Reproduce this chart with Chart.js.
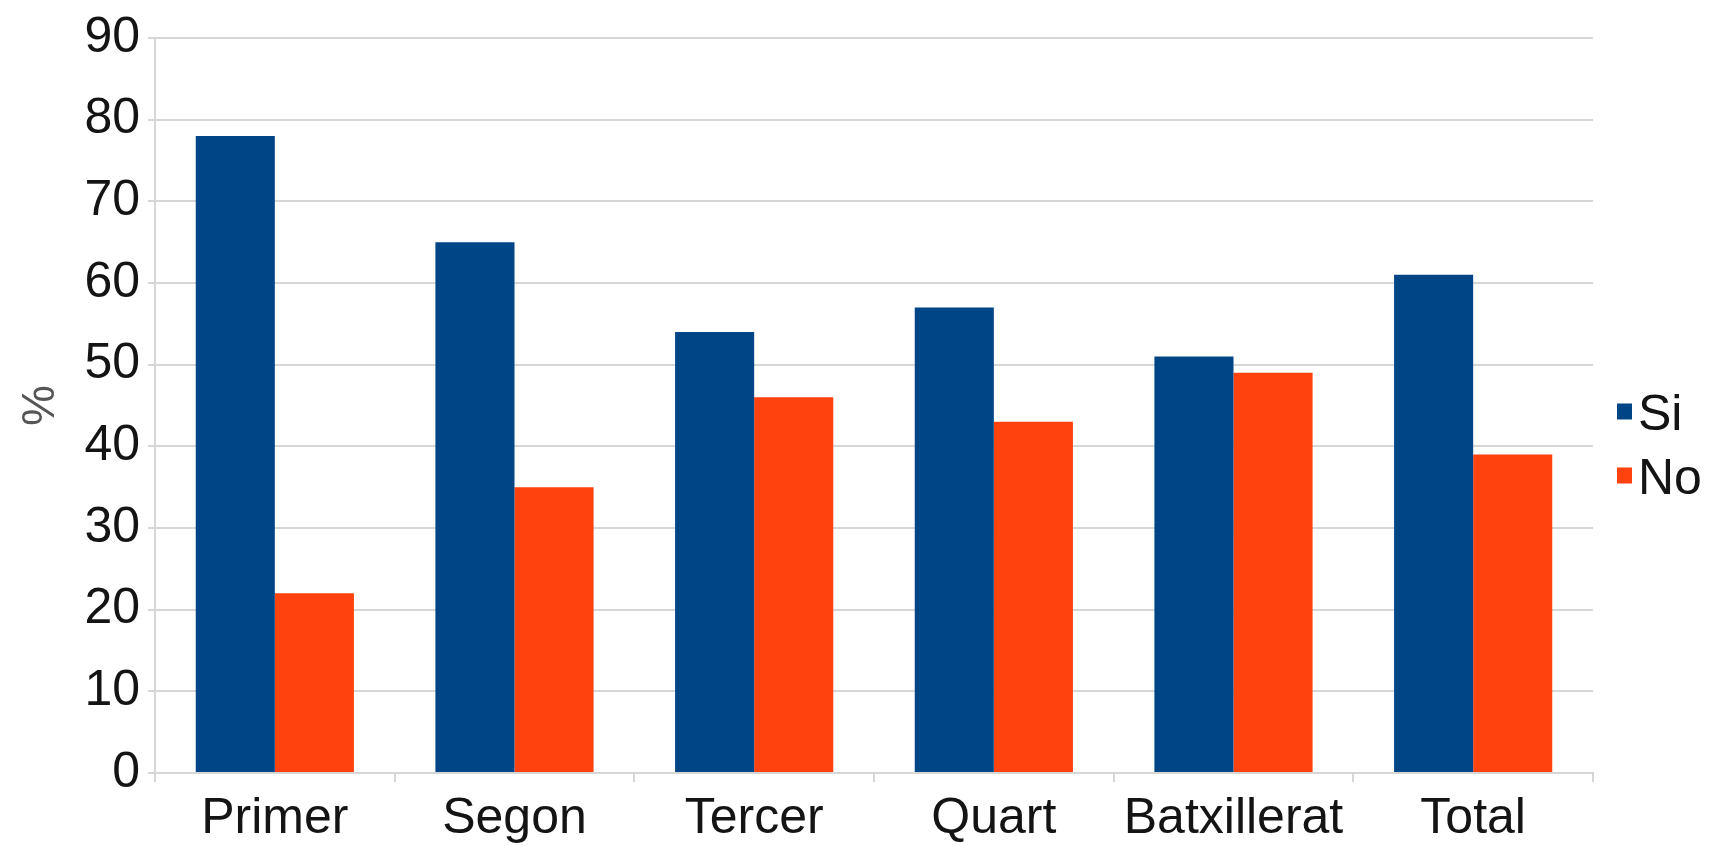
<!DOCTYPE html>
<html>
<head>
<meta charset="utf-8">
<script src="https://cdn.jsdelivr.net/npm/chart.js@4/dist/chart.umd.min.js"></script>
<style>
  html, body { margin: 0; padding: 0; background: #fff; }
  #wrap { width: 1711px; height: 846px; }
</style>
</head>
<body>
<div id="wrap"><canvas id="chart"></canvas></div>
<script>
const categories = ["Primer", "Segon", "Tercer", "Quart", "Batxillerat", "Total"]
const siValues = [78, 65, 54, 57, 51, 61]
const noValues = [22, 35, 46, 43, 49, 39]
const yTicks = [0, 10, 20, 30, 40, 50, 60, 70, 80, 90]

const gridGray = "#d6d6d6"
const fontFamily = "'Liberation Sans', Arial, sans-serif"

// little legend like the LibreOffice one: tiny square, text right next to it
const sideLegend = {
    id: "sideLegend",
    afterDraw(chart) {
        const ctx = chart.ctx
        const area = chart.chartArea
        const x = area.right + 24
        const mid = (area.top + area.bottom) / 2
        ctx.save()
        ctx.font = "50px " + fontFamily
        ctx.textBaseline = "alphabetic"
        chart.data.datasets.forEach((ds, i) => {
            const base = mid + 24 + i * 64
            ctx.fillStyle = ds.backgroundColor
            ctx.fillRect(x, base - 26, 15, 16)
            ctx.fillStyle = "#141414"
            ctx.fillText(ds.label, x + 21, base)
        })
        ctx.restore()
    }
}

new Chart(document.getElementById("chart"), {
    type: "bar",
    data: {
        labels: categories,
        datasets: [
            { label: "Si", data: siValues, backgroundColor: "#004586" },
            { label: "No", data: noValues, backgroundColor: "#ff420e" }
        ]
    },
    options: {
        responsive: true,
        maintainAspectRatio: false,
        animation: false,
        layout: { padding: { left: 0, right: 118, top: 35, bottom: 0 } },
        categoryPercentage: 0.66,
        barPercentage: 1,
        plugins: {
            legend: { display: false },
            tooltip: { enabled: false }
        },
        scales: {
            x: {
                afterFit(scale) { scale.height = 73 },
                grid: {
                    color: (c) => c.index === categories.length ? gridGray : "transparent",
                    tickColor: gridGray,
                    lineWidth: 2,
                    tickLength: 9
                },
                border: { color: gridGray, width: 2 },
                ticks: {
                    color: "#141414",
                    padding: 7,
                    font: { family: fontFamily, size: 50 }
                }
            },
            y: {
                min: 0,
                max: 90,
                afterFit(scale) { scale.width = 155 },
                afterBuildTicks(scale) { scale.ticks = yTicks.map(v => ({ value: v })) },
                grid: { color: gridGray, lineWidth: 2, tickLength: 7 },
                border: { color: gridGray, width: 2 },
                ticks: {
                    color: "#141414",
                    padding: 8,
                    font: { family: fontFamily, size: 50 }
                },
                title: {
                    display: true,
                    text: "%",
                    color: "#555",
                    padding: { top: 14, bottom: 0 },
                    font: { family: fontFamily, size: 46 }
                }
            }
        }
    },
    plugins: [sideLegend]
})
</script>
</body>
</html>
